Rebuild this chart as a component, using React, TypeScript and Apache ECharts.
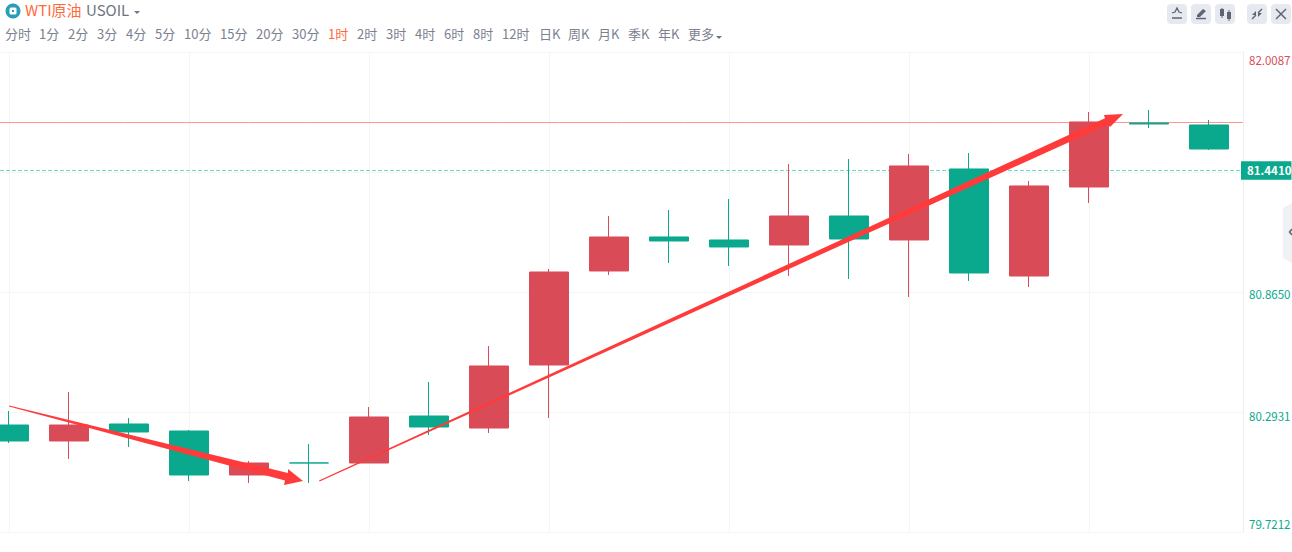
import React, { useEffect, useRef } from "react";
import * as echarts from "echarts";

const categories = ["1","2","3","4","5","6","7","8","9","10","11","12","13","14","15","16","17","18","19","20","21"];
// [open, close, low, high]
const candles = [
  [80.2311, 80.1549, 80.1454, 80.2979],
  [80.1549, 80.2311, 80.0691, 80.3884],
  [80.2359, 80.1978, 80.1263, 80.2645],
  [80.2025, 79.9929, 79.9643, 80.2073],
  [79.9929, 80.05, 79.9547, 80.0596],
  [80.0505, 80.05, 79.9547, 80.1406],
  [80.05, 80.2693, 80.05, 80.3169],
  [80.274, 80.2216, 80.1835, 80.4361],
  [80.2168, 80.5123, 80.193, 80.6076],
  [80.5171, 80.9603, 80.2645, 80.9746],
  [80.9651, 81.1271, 80.946, 81.2272],
  [81.1271, 81.108, 81.0032, 81.2558],
  [81.1128, 81.0795, 80.9889, 81.3082],
  [81.089, 81.2272, 80.9412, 81.475],
  [81.2272, 81.1176, 80.9269, 81.4988],
  [81.1128, 81.4655, 80.8412, 81.5227],
  [81.4512, 80.9555, 80.9174, 81.5274],
  [80.9412, 81.3702, 80.8888, 81.394],
  [81.3654, 81.6752, 81.2891, 81.7228],
  [81.6704, 81.6656, 81.6466, 81.7324],
  [81.6609, 81.5465, 81.5417, 81.6847],
];
const yMin = 79.7212;
const yMax = 82.0087;
const yTicks = [79.7212, 80.2931, 80.865, 81.4368, 82.0087];
const labelTicks = [79.7212, 80.2931, 80.865, 82.0087];
const lastPriceLabel = "81.4410";
const lastPriceLevel = 81.444;
const refPrice = 81.6728;
const periods: [string, number][] = [
  ["分时",5],["1分",39],["2分",68],["3分",97],["4分",126],["5分",155],["10分",184],["15分",220],["20分",256],["30分",292],["1时",328],["2时",357],["3时",386],["4时",415],["6时",444],["8时",473],["12时",502],["日K",539],["周K",568],["月K",598],["季K",628],["年K",658],["更多",688],
];
const FONT = '"Noto Sans CJK SC", "Noto Sans", sans-serif';
const RED = "#da4b58";
const GREEN = "#0aa88c";
const ARROW = "#ff3a3a";
const GRID = "#f5f5f7";
const GRAY = "#7b8190";
const ICON = "#5f6472";

const buttons = [1167, 1191, 1215, 1247, 1271];
const arrowDown = [[9,405.6],[288,473],[288,469],[303,481],[284,485],[285,480.5],[9,406.4]];
const arrowUp = [[319,480.6],[1105,118.2],[1104,115],[1123,114],[1110,127],[1108,124.5],[319.6,481.4]];

const line = (x1:number,y1:number,x2:number,y2:number,w=1.5,color=ICON) => ({
  type:"line", shape:{x1,y1,x2,y2}, style:{stroke:color,lineWidth:w}, silent:true,
});

export default function App() {
  const ref = useRef<HTMLDivElement>(null);
  useEffect(() => {
    document.body.style.margin = "0";
    const chart = echarts.init(ref.current!, undefined, { renderer: "svg" });
    const periodTexts = periods.map(([t,x]) => ({
      type:"text", x, y:27, silent:true,
      style:{text:t, fill:t==="1时"?"#ff6a3d":GRAY, font:`13px ${FONT}`},
    }));
    chart.setOption({
      animation:false,
      backgroundColor:"#fff",
      grid:[
        {left:-21, top:52, width:1260, height:480, outerBoundsMode:"none"},
        {left:0, top:52, width:1243, height:480, outerBoundsMode:"none"},
      ],
      xAxis:[
        {type:"category", gridIndex:0, data:categories, boundaryGap:true,
          axisLine:{show:false}, axisTick:{show:false}, axisLabel:{show:false},
          splitLine:{show:true, interval:2, alignWithLabel:true, lineStyle:{color:GRID,width:1}}},
        {type:"category", gridIndex:1, data:categories, boundaryGap:false, show:false},
      ],
      yAxis:[
        {type:"value", gridIndex:0, min:yMin, max:yMax, show:false, splitLine:{show:false}},
        {type:"value", gridIndex:1, min:yMin, max:yMax, position:"right",
          axisLine:{show:true, lineStyle:{color:"#f0f0f3"}},
          axisTick:{show:false, customValues:yTicks},
          splitLine:{show:true, lineStyle:{color:GRID,width:1}},
          axisLabel:{
            show:true, customValues:labelTicks, inside:false, margin:6, align:"left",
            fontFamily:FONT, fontSize:11.5,
            formatter:(v:number)=>{
              const s=v.toFixed(4);
              if(v>=82) return `{top|${s}}`;
              if(v<=79.73) return `{bot|${s}}`;
              if(v<80.5) return `{d4|${s}}`;
              return `{d2|${s}}`;
            },
            rich:{
              top:{color:RED,fontFamily:FONT,fontSize:11.5,padding:[16,0,0,0]},
              bot:{color:GREEN,fontFamily:FONT,fontSize:11.5,padding:[0,0,16,0]},
              d4:{color:GREEN,fontFamily:FONT,fontSize:11.5,padding:[8,0,0,0]},
              d2:{color:GREEN,fontFamily:FONT,fontSize:11.5,padding:[4,0,0,0]},
            },
          }},
      ],
      series:[
        {type:"line", xAxisIndex:1, yAxisIndex:1, data:categories.map(()=>refPrice), z:1, silent:true,
          symbol:"none", lineStyle:{color:"#ff9494",type:"solid",width:1}},
        {type:"line", xAxisIndex:1, yAxisIndex:1, data:categories.map(()=>lastPriceLevel), z:1, silent:true,
          symbol:"none", lineStyle:{color:"#6fd9c1",type:"dashed",width:1},
          endLabel:{show:true, distance:-2, formatter:()=>lastPriceLabel,
            color:"#fff", backgroundColor:GREEN, fontFamily:FONT, fontSize:11.5, fontWeight:"bold",
            padding:[4,0,3,6]}},
        {type:"candlestick", xAxisIndex:0, yAxisIndex:0, data:candles, barWidth:40, z:3, silent:true,
          itemStyle:{color:RED,color0:GREEN,borderColor:RED,borderColor0:GREEN,borderWidth:1}},
      ],
      graphic:{elements:[
        {type:"polygon", z:50, silent:true, shape:{points:arrowDown}, style:{fill:ARROW}},
        {type:"polygon", z:50, silent:true, shape:{points:arrowUp}, style:{fill:ARROW}},
        {type:"circle", silent:true, shape:{cx:13,cy:11,r:7.5}, style:{fill:"#2a9dbb"}},
        {type:"rect", silent:true, shape:{x:9.5,y:7.5,width:7,height:7,r:1.5}, style:{fill:"#fff"}},
        {type:"rect", silent:true, shape:{x:12,y:10,width:2,height:2}, style:{fill:"#2a9dbb"}},
        {type:"text", silent:true, x:25, y:2, style:{text:"WTI原油", fill:"#ff6a3d", font:`15px ${FONT}`}},
        {type:"text", silent:true, x:86, y:2, style:{text:"USOIL", fill:"#6e7482", font:`15px ${FONT}`}},
        {type:"polygon", silent:true, shape:{points:[[134,11],[140,11],[137,14]]}, style:{fill:"#6e7482"}},
        ...periodTexts,
        {type:"polygon", silent:true, shape:{points:[[716,36],[722,36],[719,39]]}, style:{fill:"#6e7482"}},
        ...buttons.map(x=>({type:"rect", silent:true, shape:{x,y:4,width:20,height:20,r:4}, style:{fill:"#e6e9f0"}})),
        {type:"polyline", silent:true, shape:{points:[[1172,13],[1175,12],[1177,8],[1179,12],[1182,13]]}, style:{stroke:ICON,lineWidth:1.3,fill:"none"}},
        line(1172,18,1182,18),
        {type:"polygon", silent:true, shape:{points:[[1197,15],[1203,9],[1206,11],[1200,17],[1197,17]]}, style:{fill:ICON}},
        line(1196,18.5,1206,18.5),
        {type:"rect", silent:true, shape:{x:1220,y:9,width:4,height:7}, style:{fill:ICON}},
        line(1222,8,1222,18,1),
        {type:"rect", silent:true, shape:{x:1227,y:12,width:4,height:7}, style:{fill:ICON}},
        line(1229,10,1229,21,1),
        line(1252,19,1256,15),
        line(1258,13,1262,9),
        {type:"polygon", silent:true, shape:{points:[[1256,11],[1256,15],[1252,15]]}, style:{fill:ICON}},
        {type:"polygon", silent:true, shape:{points:[[1258,17],[1258,13],[1262,13]]}, style:{fill:ICON}},
        line(1276,9,1286,19),
        line(1286,9,1276,19),
        {type:"polygon", silent:true, shape:{points:[[1292,203],[1283,208],[1283,258],[1292,263]]}, style:{fill:"#f0f1f4"}},
        {type:"polyline", silent:true, shape:{points:[[1292,229],[1289.5,232],[1292,235]]}, style:{stroke:ICON,lineWidth:1.5,fill:"none"}},
      ]},
    });
    return () => chart.dispose();
  }, []);
  return <div ref={ref} style={{width:1292,height:552}} />;
}
